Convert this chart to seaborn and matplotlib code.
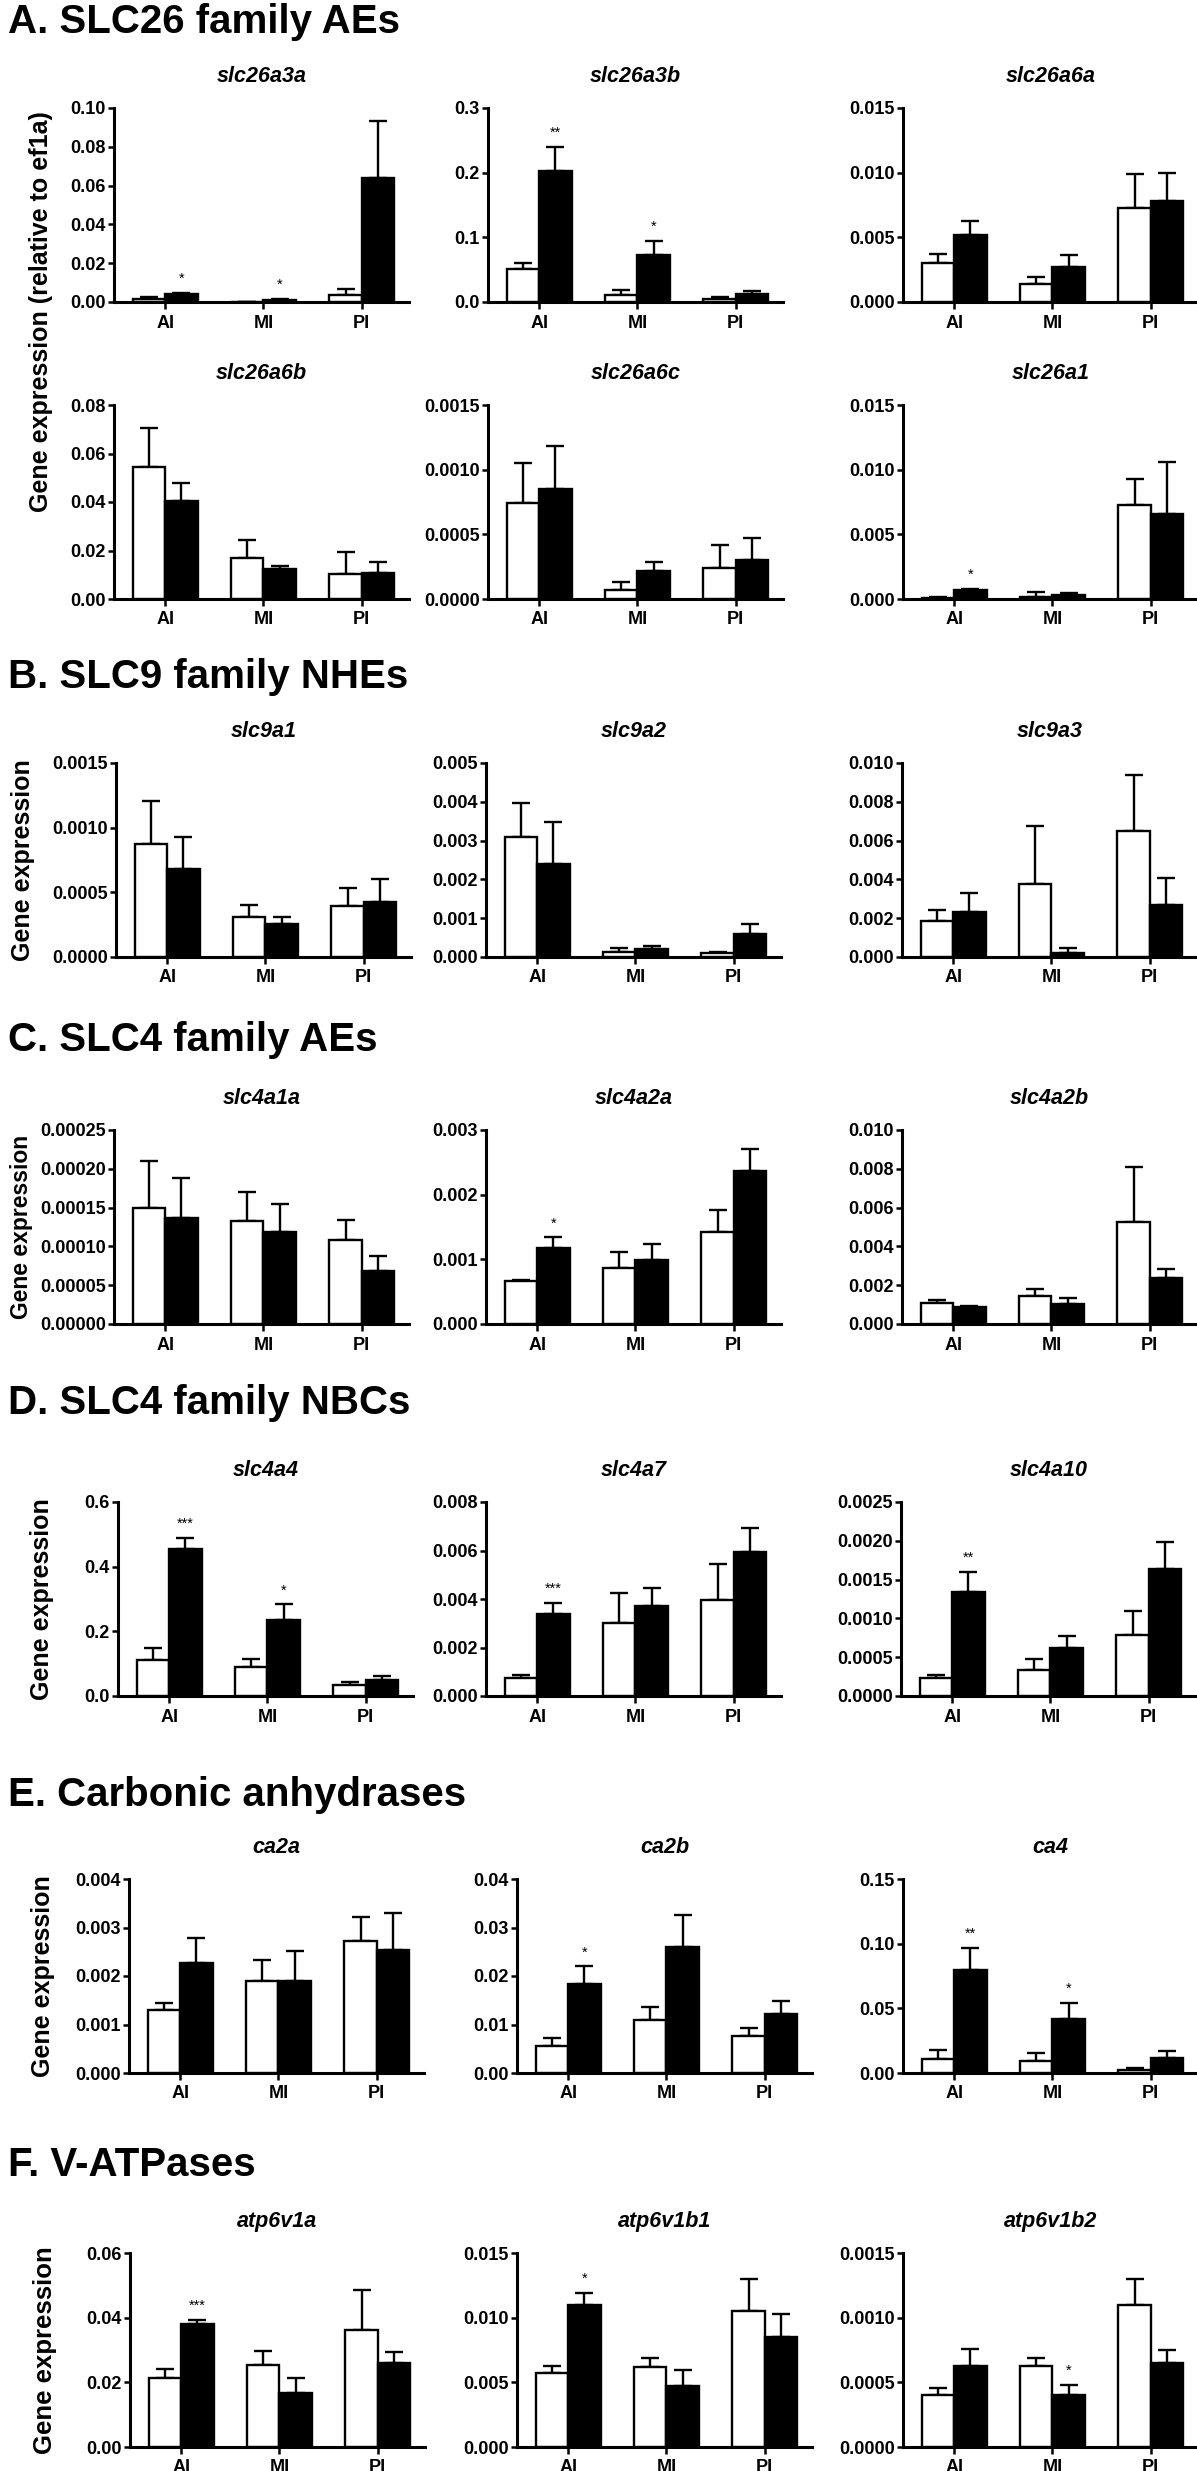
import matplotlib
matplotlib.use("Agg")
import matplotlib.pyplot as plt
import numpy as np
import pandas as pd
import seaborn as sns

REGIONS = ["AI", "MI", "PI"]
GROUPS = ["ctrl", "treat"]

SECTIONS = [
    "A. SLC26 family AEs",
    "B. SLC9 family NHEs",
    "C. SLC4 family AEs",
    "D. SLC4 family NBCs",
    "E. Carbonic anhydrases",
    "F. V-ATPases",
]

GENES = [
    "slc26a3a", "slc26a3b", "slc26a6a",
    "slc26a6b", "slc26a6c", "slc26a1",
    "slc9a1", "slc9a2", "slc9a3",
    "slc4a1a", "slc4a2a", "slc4a2b",
    "slc4a4", "slc4a7", "slc4a10",
    "ca2a", "ca2b", "ca4",
    "atp6v1a", "atp6v1b1", "atp6v1b2",
]

# open bars (AI, MI, PI)
CTRL_MEAN = [
    [0.0017, 0.0001, 0.0038], [0.051, 0.011, 0.004], [0.00303, 0.00137, 0.00727],
    [0.0543, 0.0170, 0.0104], [0.000746, 0.00007, 0.000241], [0.0001, 0.00016, 0.00723],
    [0.00087, 0.00031, 0.000396], [0.0031, 0.00013, 0.0001], [0.00186, 0.00378, 0.0065],
    [0.000149, 0.000133, 0.000108], [0.00066, 0.00087, 0.00142], [0.00107, 0.00145, 0.00524],
    [0.111, 0.089, 0.035], [0.00076, 0.00302, 0.00394], [0.000237, 0.00034, 0.000784],
    [0.00129, 0.0019, 0.00273], [0.0055, 0.011, 0.0076], [0.0108, 0.009, 0.0026],
    [0.0213, 0.0253, 0.0363], [0.00572, 0.00616, 0.0105], [0.0004, 0.000628, 0.0011],
]
CTRL_SEM = [
    [0.0009, 0.0, 0.0029], [0.009, 0.007, 0.0038], [0.00072, 0.00057, 0.00263],
    [0.0162, 0.0075, 0.0091], [0.000304, 0.000062, 0.000179], [0.00003, 0.00038, 0.00207],
    [0.00034, 0.00009, 0.000134], [0.00087, 0.00009, 0.00003], [0.00057, 0.00296, 0.0029],
    [0.000061, 0.000037, 0.000026], [0.00002, 0.00025, 0.00034], [0.00017, 0.00036, 0.00286],
    [0.036, 0.025, 0.007], [0.0001, 0.00124, 0.00151], [0.000039, 0.000134, 0.000306],
    [0.00015, 0.00044, 0.00048], [0.00165, 0.0026, 0.0017], [0.0072, 0.0065, 0.0013],
    [0.0028, 0.0045, 0.0122], [0.00056, 0.00069, 0.0025], [0.00006, 0.000062, 0.0002],
]
# filled bars (AI, MI, PI)
TREAT_MEAN = [
    [0.0040, 0.0012, 0.0638], [0.203, 0.073, 0.0124], [0.0052, 0.00272, 0.00784],
    [0.0406, 0.0124, 0.0106], [0.000847, 0.000218, 0.000303], [0.0007, 0.0003, 0.0066],
    [0.00068, 0.000256, 0.000427], [0.0024, 0.00021, 0.00059], [0.00234, 0.00022, 0.00266],
    [0.000137, 0.000118, 0.000068], [0.00118, 0.00099, 0.00237], [0.00086, 0.00103, 0.00238],
    [0.455, 0.235, 0.0507], [0.00338, 0.00372, 0.00592], [0.001336, 0.00062, 0.00164],
    [0.00227, 0.0019, 0.00254], [0.0184, 0.026, 0.0121], [0.0797, 0.0418, 0.0113],
    [0.038, 0.0168, 0.0261], [0.011, 0.00473, 0.00848], [0.000623, 0.000403, 0.00065],
]
TREAT_SEM = [
    [0.0007, 0.0005, 0.0293], [0.037, 0.021, 0.0042], [0.00108, 0.0009, 0.00216],
    [0.0074, 0.0013, 0.0047], [0.000333, 0.00007, 0.000171], [0.00008, 0.00017, 0.0040],
    [0.00025, 0.000054, 0.000173], [0.00107, 0.00007, 0.00027], [0.00097, 0.00025, 0.00139],
    [0.000051, 0.000036, 0.000019], [0.00016, 0.00025, 0.00033], [0.00009, 0.0003, 0.00043],
    [0.035, 0.048, 0.0103], [0.00047, 0.00075, 0.00102], [0.000264, 0.00015, 0.00034],
    [0.00052, 0.00062, 0.00075], [0.0036, 0.0066, 0.0027], [0.0173, 0.0122, 0.0055],
    [0.0014, 0.0045, 0.0033], [0.0009, 0.00122, 0.00182], [0.000132, 0.000075, 0.0001],
]
STARS = [
    ["*", "*", ""], ["**", "*", ""], ["", "", ""],
    ["", "", ""], ["", "", ""], ["*", "", ""],
    ["", "", ""], ["", "", ""], ["", "", ""],
    ["", "", ""], ["*", "", ""], ["", "", ""],
    ["***", "*", ""], ["***", "", ""], ["**", "", ""],
    ["", "", ""], ["*", "", ""], ["**", "*", ""],
    ["***", "", ""], ["*", "", ""], ["", "*", ""],
]

# y axis range per panel
YMAX = [0.10, 0.3, 0.015, 0.08, 0.0015, 0.015, 0.0015, 0.005, 0.010, 0.00025, 0.003,
        0.010, 0.6, 0.008, 0.0025, 0.004, 0.04, 0.15, 0.06, 0.015, 0.0015]
YSTEP = [0.02, 0.1, 0.005, 0.02, 0.0005, 0.005, 0.0005, 0.001, 0.002, 0.00005, 0.001,
         0.002, 0.2, 0.002, 0.0005, 0.001, 0.01, 0.05, 0.02, 0.005, 0.0005]
YDEC = [2, 1, 3, 2, 4, 3, 4, 3, 3, 5, 3, 3, 1, 3, 4, 3, 2, 2, 2, 3, 4]

# layout in pixels
W, H = 1197, 2471
ROW_TOP = [108, 405, 763, 1130, 1502, 1879, 2253]
AX_H = 194
AX_W = 295
COL_LEFT = [
    [114, 488, 903], [114, 488, 903], [116, 486, 902], [114, 486, 902],
    [118, 486, 901], [129, 517, 903], [130, 517, 903],
]
SECTION_Y = [22, 677, 1040, 1403, 1795, 2165]
YLAB_X = [41, 41, 23, 22, 42, 43, 45]
YLAB_SIZE = [18, 18, 18, 16.5, 18, 18, 18.5]

sns.set_style("ticks")
plt.rcParams["font.family"] = ["Liberation Sans", "DejaVu Sans"]
plt.rcParams["font.weight"] = "bold"
plt.rcParams["text.color"] = "black"
plt.rcParams["axes.edgecolor"] = "black"
plt.rcParams["xtick.color"] = "black"
plt.rcParams["ytick.color"] = "black"

fig = plt.figure(figsize=(W / 100, H / 100), dpi=100)


def add_ax(left, top):
    return fig.add_axes([left / W, 1 - (top + AX_H) / H, AX_W / W, AX_H / H])


for i, gene in enumerate(GENES):
    row, col = divmod(i, 3)
    ax = add_ax(COL_LEFT[row][col], ROW_TOP[row])
    df = pd.DataFrame({
        "region": REGIONS * 2,
        "group": ["ctrl"] * 3 + ["treat"] * 3,
        "mean": CTRL_MEAN[i] + TREAT_MEAN[i],
    })
    sns.barplot(data=df, x="region", y="mean", hue="group", order=REGIONS,
                hue_order=GROUPS, palette={"ctrl": "white", "treat": "black"},
                edgecolor="black", linewidth=1.7, saturation=1, width=0.66,
                errorbar=None, legend=False, ax=ax, zorder=2)

    # upward-only error bars and significance stars
    for p in ax.patches:
        if p.get_width() == 0:
            continue
        cx = p.get_x() + p.get_width() / 2
        k = int(round(cx))
        treat = cx > k
        sem = (TREAT_SEM if treat else CTRL_SEM)[i][k]
        top = p.get_height()
        ax.errorbar(cx, top, yerr=[[0], [sem]], fmt="none", ecolor="black",
                    elinewidth=1.7, capsize=6.5, capthick=1.7, zorder=1)
        if treat and STARS[i][k]:
            ax.annotate(STARS[i][k], (cx, top + sem), xytext=(0, 5),
                        textcoords="offset points", ha="center", va="bottom",
                        fontsize=10.5, fontweight="normal")

    ticks = np.linspace(0, YMAX[i], int(round(YMAX[i] / YSTEP[i])) + 1)
    ax.set_ylim(0, YMAX[i])
    ax.set_yticks(ticks)
    ax.set_yticklabels([f"{t:.{YDEC[i]}f}" for t in ticks])
    ax.set_xlim(-0.52, 2.48)
    ax.set_xlabel("")
    ax.set_ylabel("")
    ax.set_title(gene, fontsize=15.5, fontstyle="italic", fontweight="bold", pad=19)
    sns.despine(ax=ax)
    for s in ["left", "bottom"]:
        ax.spines[s].set_linewidth(2.2)
    ax.tick_params(axis="both", direction="out", length=4, width=1.8,
                   labelsize=13, pad=2)
    ax.tick_params(axis="x", length=5, pad=4)

for title, y in zip(SECTIONS, SECTION_Y):
    fig.text(8 / W, 1 - y / H, title, fontsize=29, fontweight="bold",
             ha="left", va="center")

# y axis labels
fig.text(YLAB_X[0] / W, 1 - 312 / H, "Gene expression (relative to ef1a)",
         rotation=90, fontsize=YLAB_SIZE[0], fontweight="bold",
         ha="center", va="center")
for r in range(2, 7):
    fig.text(YLAB_X[r] / W, 1 - (ROW_TOP[r] + AX_H / 2) / H, "Gene expression",
             rotation=90, fontsize=YLAB_SIZE[r], fontweight="bold",
             ha="center", va="center")

fig.savefig("out.png", dpi=100)
